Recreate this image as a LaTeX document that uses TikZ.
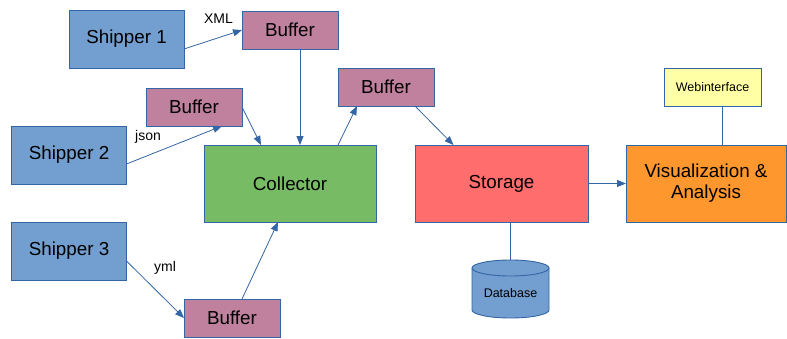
\documentclass[tikz,border=0pt]{standalone}
\usepackage{fontspec}
\setmainfont{Liberation Sans}
\usetikzlibrary{arrows.meta,calc}
\definecolor{bord}{HTML}{3465A4}
\definecolor{shipc}{HTML}{729FCF}
\definecolor{bufc}{HTML}{BF819E}
\definecolor{colc}{HTML}{77BC65}
\definecolor{stoc}{HTML}{FF6D6D}
\definecolor{visc}{HTML}{FF972F}
\definecolor{webc}{HTML}{FFFFA6}
\tikzset{
  box/.style={draw=bord, line width=0.9pt, inner sep=0pt, outer sep=0pt, align=center,
    font=\fontsize{18.8}{21}\selectfont},
  shipbox/.style={box, fill=shipc, minimum width=115pt, minimum height=58pt},
  bufbox/.style={box, fill=bufc, minimum width=96pt, minimum height=38pt},
  bigbox/.style={box, minimum width=172pt, minimum height=77pt},
  conn/.style={draw=bord, line width=0.8pt, -{Triangle[length=9pt,width=7pt]}},
  plain/.style={draw=bord, line width=0.8pt},
  lbl/.style={font=\fontsize{14}{16}\selectfont, inner sep=0pt}
}
\begin{document}
\begin{tikzpicture}[x=1pt,y=-1pt]
\useasboundingbox (0,0) rectangle (787,338);
% nodes
\node[shipbox] (s1) at (126.5,39) {Shipper 1};
\node[shipbox] (s2) at (69,155) {Shipper 2};
\node[shipbox] (s3) at (69,251) {Shipper 3};
\node[bufbox] (b1) at (290,30) {Buffer};
\node[bufbox] (b2) at (194,107) {Buffer};
\node[bufbox] (b3) at (232,318) {Buffer};
\node[bufbox] (b4) at (386,87) {Buffer};
\node[bigbox, fill=colc] (c) at (290,183.5) {Collector};
\node[bigbox, fill=stoc, minimum width=173pt] (st) at (501.5,183.5) {Storage};
\node[bigbox, fill=visc, minimum width=160pt] (vis) at (706,183.5) {Visualization \&\\Analysis};
\node[box, fill=webc, minimum width=97pt, minimum height=38pt, font=\fontsize{12.5}{14}\selectfont] (web) at (712.5,87) {Webinterface};
% database cylinder
\fill[shipc] (472,268) -- (472,310) arc (180:360:38.5pt and 8pt) -- (549,268) arc (0:180:38.5pt and 8pt) -- cycle;
\draw[bord, line width=0.9pt] (472,268) -- (472,310) arc (180:360:38.5pt and 8pt) -- (549,268) arc (0:180:38.5pt and 8pt);
\draw[bord, line width=0.9pt] (472,268) arc (180:360:38.5pt and 8pt);
\coordinate (dbtop) at (510.5,260);
\node[inner sep=0pt, font=\fontsize{12.5}{14}\selectfont] (db) at (510.5,293) {Database};
% labels
\node[lbl] (lx) at (218.5,18.5) {XML};
\node[lbl] (lj) at (148,137) {json};
\node[lbl] (ly) at (165,268) {yml};
% connectors
\draw[conn] ([yshift=-10pt]s1.east) -- (b1.west);
\draw[conn] ([xshift=10pt]b1.south) -- ([xshift=10pt]c.north);
\draw[conn] (b2.east) -- ([xshift=-29pt]c.north);
\draw[conn] ([yshift=-9pt]s2.east) -- ([xshift=28pt]b2.south);
\draw[conn] ([yshift=-10pt]s3.east) -- (b3.west);
\draw[conn] ([xshift=10pt]b3.north) -- ([xshift=-12pt]c.south);
\draw[conn] ([xshift=48pt]c.north) -- ([xshift=-29pt]b4.south);
\draw[conn] ([xshift=29pt]b4.south) -- ([xshift=-48pt]st.north);
\draw[conn] (st.east) -- (vis.west);
\draw[plain] (dbtop) -- (dbtop |- st.south);
\draw[plain] ([xshift=9.5pt]web.south) -- ([xshift=9.5pt]web.south |- vis.north);
\end{tikzpicture}
\end{document}
